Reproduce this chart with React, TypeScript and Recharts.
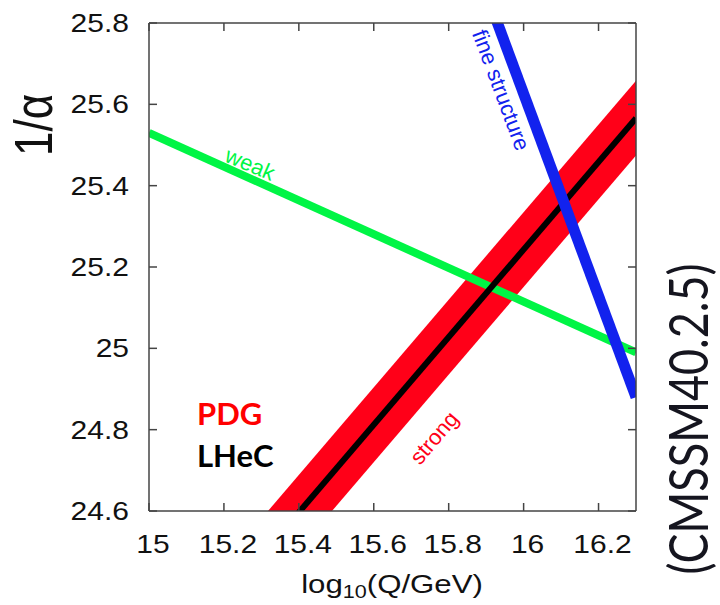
import { ComposedChart, Line, Area, XAxis, YAxis, ReferenceDot } from 'recharts';

const xTicks = [15, 15.2, 15.4, 15.6, 15.8, 16, 16.2];
const yTicks = [24.6, 24.8, 25, 25.2, 25.4, 25.6, 25.8];

// weak coupling (green)
const weakX = [15, 16.3];
const weakY = [25.53, 24.99];

// fine structure (blue)
const fineX = [15.9, 16.3];
const fineY = [25.875, 24.88];

// strong: LHeC central line + PDG band
const strongX = [15.3, 16.3];
const strongMid = [24.489, 25.566];
const strongLow = [24.397, 25.474];
const strongHigh = [24.581, 25.658];

const weakData = weakX.map((x, i) => ({ x, v: weakY[i] }));
const fineData = fineX.map((x, i) => ({ x, v: fineY[i] }));
const strongData = strongX.map((x, i) => ({
  x,
  mid: strongMid[i],
  band: [strongLow[i], strongHigh[i]],
}));

const sans = '"Liberation Sans", Arial, sans-serif';
const frame = '#444';
const GREEN = '#00f545';
const BLUE = '#1222ee';
const RED = '#ff0018';

const BottomTick = ({ x, y, payload }: any) => (
  <g>
    <line x1={x} y1={y} x2={x} y2={y - 8} stroke={frame} strokeWidth={1.5} />
    <text
      transform={`translate(${x + 4},${y + 42}) scale(1.2,1)`}
      textAnchor="middle"
      fontSize={25}
      fill="#111"
      fontFamily={sans}
    >
      {payload.value}
    </text>
  </g>
);

const TopTick = ({ x, y }: any) => (
  <line x1={x} y1={y} x2={x} y2={y + 8} stroke={frame} strokeWidth={1.5} />
);

const LeftTick = ({ x, y, payload }: any) => (
  <g>
    <line x1={x} y1={y} x2={x + 8} y2={y} stroke={frame} strokeWidth={1.5} />
    <text
      transform={`translate(${x - 20},${y + 9}) scale(1.2,1)`}
      textAnchor="end"
      fontSize={25}
      fill="#111"
      fontFamily={sans}
    >
      {payload.value}
    </text>
  </g>
);

const RightTick = ({ x, y }: any) => (
  <line x1={x} y1={y} x2={x - 8} y2={y} stroke={frame} strokeWidth={1.5} />
);

const curveLabel = (text: string, color: string, angle: number) => (props: any) => (
  <text
    x={props.cx}
    y={props.cy}
    fill={color}
    fontSize={22}
    fontFamily={sans}
    textAnchor="middle"
    dominantBaseline="central"
    transform={`rotate(${angle} ${props.cx} ${props.cy})`}
  >
    {text}
  </text>
);

export default function App() {
  return (
    <div style={{ position: 'absolute', left: 0, top: 0, width: 720, height: 605, background: '#fff' }}>
      <ComposedChart width={720} height={605} margin={{ top: 13, right: 74, bottom: 64, left: 89 }}>
        <XAxis
          type="number"
          dataKey="x"
          domain={[15, 16.3]}
          ticks={xTicks}
          interval={0}
          allowDataOverflow
          tickSize={0}
          tickMargin={0}
          height={30}
          axisLine={{ stroke: frame, strokeWidth: 1.5 }}
          tickLine={false}
          tick={<BottomTick />}
        />
        <XAxis
          xAxisId="top"
          orientation="top"
          type="number"
          dataKey="x"
          domain={[15, 16.3]}
          ticks={xTicks}
          interval={0}
          allowDataOverflow
          tickSize={0}
          tickMargin={0}
          height={10}
          axisLine={{ stroke: frame, strokeWidth: 1.5 }}
          tickLine={false}
          tick={<TopTick />}
        />
        <YAxis
          type="number"
          domain={[24.6, 25.8]}
          ticks={yTicks}
          interval={0}
          allowDataOverflow
          tickSize={0}
          tickMargin={0}
          width={60}
          axisLine={{ stroke: frame, strokeWidth: 1.5 }}
          tickLine={false}
          tick={<LeftTick />}
        />
        <YAxis
          yAxisId="right"
          orientation="right"
          type="number"
          domain={[24.6, 25.8]}
          ticks={yTicks}
          interval={0}
          allowDataOverflow
          tickSize={0}
          tickMargin={0}
          width={10}
          axisLine={{ stroke: frame, strokeWidth: 1.5 }}
          tickLine={false}
          tick={<RightTick />}
        />
        <Area
          data={strongData}
          dataKey="band"
          type="linear"
          stroke="none"
          fill={RED}
          fillOpacity={1}
          isAnimationActive={false}
        />
        <Line
          data={weakData}
          dataKey="v"
          type="linear"
          stroke={GREEN}
          strokeWidth={8}
          dot={false}
          isAnimationActive={false}
        />
        <Line
          data={strongData}
          dataKey="mid"
          type="linear"
          stroke="#000"
          strokeWidth={6}
          dot={false}
          isAnimationActive={false}
        />
        <Line
          data={fineData}
          dataKey="v"
          type="linear"
          stroke={BLUE}
          strokeWidth={11}
          dot={false}
          isAnimationActive={false}
        />
        <ReferenceDot x={15.27} y={25.453} r={0} shape={curveLabel('weak', GREEN, 23)} />
        <ReferenceDot x={15.94} y={25.635} r={0} shape={curveLabel('fine structure', BLUE, 69.5)} />
        <ReferenceDot x={15.761} y={24.78} r={0} shape={curveLabel('strong', RED, -49.5)} />
      </ComposedChart>
      <svg
        width={720}
        height={605}
        style={{ position: 'absolute', left: 0, top: 0, pointerEvents: 'none' }}
      >
        <text
          transform="translate(52,125) scale(1.2,1) rotate(-90)"
          textAnchor="middle"
          fontSize={44}
          fill="#111"
          fontFamily={sans}
        >
          1/α
        </text>
        <text
          transform="translate(392,593) scale(1.2,1)"
          textAnchor="middle"
          fontSize={26}
          fill="#111"
          fontFamily={sans}
        >
          log
          <tspan fontSize={18} dy={5}>10</tspan>
          <tspan dy={-5}>(Q/GeV)</tspan>
        </text>
        <text
          transform="translate(708,419) scale(1.2,1) rotate(-90)"
          textAnchor="middle"
          fontSize={45}
          fill="#15151f"
          fontFamily="Lato, sans-serif"
        >
          (CMSSM40.2.5)
        </text>
        <text x={197} y={425} fontSize={31} fontWeight="bold" fill="#ff0000" fontFamily="Lato, sans-serif">
          PDG
        </text>
        <text x={197} y={467} fontSize={31} fontWeight="bold" fill="#000" fontFamily="Lato, sans-serif">
          LHeC
        </text>
      </svg>
    </div>
  );
}
